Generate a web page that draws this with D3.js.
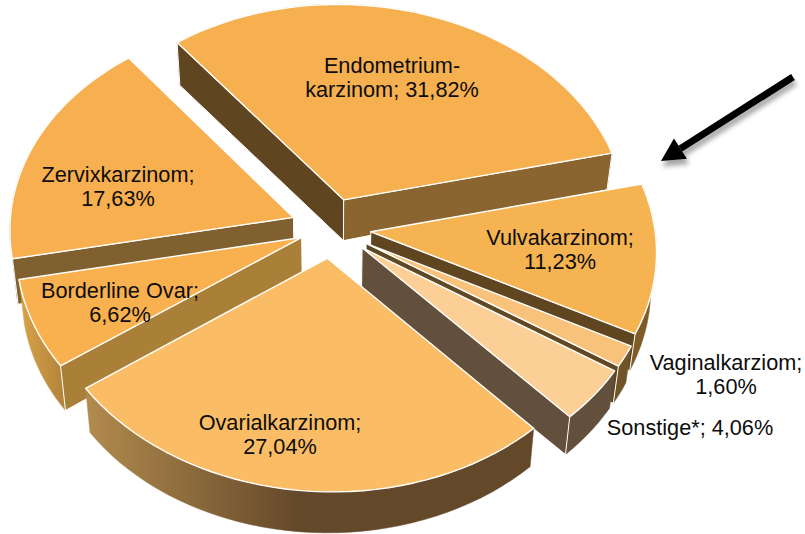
<!DOCTYPE html>
<html><head><meta charset="utf-8">
<style>html,body{margin:0;padding:0;background:#fff}svg{display:block}text{font-family:"Liberation Sans",Arial,sans-serif;fill:#0d0d0d}</style>
<script src="https://cdn.jsdelivr.net/npm/d3@7"></script>
</head><body>
<script>
const categories=["Endometriumkarzinom","Vulvakarzinom","Vaginalkarziom","Sonstige*","Ovarialkarzinom","Borderline Ovar","Zervixkarzinom"];
const values=[31.82,11.23,1.60,4.06,27.04,6.62,17.63];
const labelLines=[["Endometrium-","karzinom; 31,82%"],["Vulvakarzinom;","11,23%"],["Vaginalkarziom;","1,60%"],["Sonstige*; 4,06%"],["Ovarialkarzinom;","27,04%"],["Borderline Ovar;","6,62%"],["Zervixkarzinom;","17,63%"]];
const labelAnchors=[[392,73],[560,245],[726,370],[690,435],[280,430],[120,298],[118,182]];
const topColors=["#f6b050","#f6b351","#f9c27b","#fccf96","#fabd65","#f9b04e","#f8af4f"];
const radialColors=["#8a6530","#5f4520","#5f4822","#62503c","#64482a","#aa7f38","#80602e"];
const startWallColors=["#5f4520","#5f4520","#5f4822","#62503c","#64482a","#aa7f38","#80602e"];
const outerColors=["#8a6530","#7d5c28","#6f5428","#62503c","url(#ovarialWall)","url(#borderWall)","#80602e"];
const explodeBy=[40,40,40,40,40,32,40];
const paintOrder=[0,6,1,5,2,3,4];

const W=805,H=534,cx=331,cy=228,R=284,squash=0.755,persp=0.07,taper=0.018,skew=0.018;
const rad=Math.PI/180;
const svg=d3.select("body").append("svg").attr("width",W).attr("height",H);
const defs=svg.append("defs");
function grad(id,x1,x2,c1,c2){
  const g=defs.append("linearGradient").attr("id",id).attr("gradientUnits","userSpaceOnUse")
    .attr("x1",x1).attr("x2",x2).attr("y1",0).attr("y2",0);
  g.append("stop").attr("offset",0).attr("stop-color",c1);
  g.append("stop").attr("offset",1).attr("stop-color",c2);
}
grad("ovarialWall",82,300,"#b38c4e","#64482a");
grad("borderWall",25,75,"#d39f48","#a97c36");
const blur=defs.append("filter").attr("id","soft").attr("x","-20%").attr("y","-20%").attr("width","140%").attr("height","140%");
blur.append("feGaussianBlur").attr("stdDeviation",2.5);

const arcs=d3.pie().sort(null).value(d=>d).startAngle(-37.6*rad).endAngle(322.4*rad)(values);
const line=d3.line();
function proj(u,v,z){
  const w=(1+persp*v/R)*(1-taper*z);
  const depth=41+4*v/R-4*u/R;
  return [cx+(u+skew*v)*w, cy+v*squash*w+depth*z];
}
arcs.forEach((a,i)=>{
  const mid=(a.startAngle+a.endAngle)/2;
  const ox=explodeBy[i]*Math.sin(mid),oy=-explodeBy[i]*Math.cos(mid);
  const pt=(th,r,z)=>proj(ox+r*Math.sin(th),oy-r*Math.cos(th),z);
  const angles=d3.range(0,41).map(k=>a.startAngle+(a.endAngle-a.startAngle)*k/40);
  a.top=[pt(0,0,0),...angles.map(t=>pt(t,R,0))];
  a.outer=[...angles.map(t=>pt(t,R,0)),...angles.slice().reverse().map(t=>pt(t,R,1))];
  a.startWall=Math.sin(a.startAngle)<0?[pt(0,0,0),pt(a.startAngle,R,0),pt(a.startAngle,R,1),pt(0,0,1)]:null;
  a.endWall=Math.sin(a.endAngle)>0?[pt(0,0,0),pt(a.endAngle,R,0),pt(a.endAngle,R,1),pt(0,0,1)]:null;
  a.idx=i;
});
const slices=svg.append("g").selectAll("g").data(paintOrder.map(i=>arcs[i])).join("g");
slices.each(function(a){
  const s=d3.select(this),i=a.idx;
  s.append("path").attr("d",line(a.outer)+"Z").attr("fill",outerColors[i]).attr("stroke",outerColors[i]).attr("stroke-width",.5);
  if(a.startWall) s.append("path").attr("d",line(a.startWall)+"Z").attr("fill",startWallColors[i]).attr("stroke","#fff").attr("stroke-width",1);
  if(a.endWall) s.append("path").attr("d",line(a.endWall)+"Z").attr("fill",radialColors[i]).attr("stroke","#fff").attr("stroke-width",1);
  s.append("path").attr("d",line(a.top)+"Z").attr("fill",topColors[i]).attr("stroke","#fff").attr("stroke-width",1.4).attr("stroke-linejoin","round");
});
const arrowPts=[[793,77],[661,161]];
const ag=svg.append("g");
function arrow(sel){
  const [a,b]=arrowPts, ang=Math.atan2(b[1]-a[1],b[0]-a[0]);
  const hl=23,hw=12,base=[b[0]-hl*Math.cos(ang),b[1]-hl*Math.sin(ang)],nx=-Math.sin(ang),ny=Math.cos(ang);
  sel.append("line").attr("x1",a[0]).attr("y1",a[1]).attr("x2",base[0]).attr("y2",base[1]).attr("stroke-width",7);
  sel.append("path").attr("d",line([b,[base[0]+nx*hw,base[1]+ny*hw],[base[0]-nx*hw,base[1]-ny*hw]])+"Z");
}
const shadow=ag.append("g").attr("transform","translate(2,5)").attr("filter","url(#soft)").attr("stroke","#000").attr("fill","#000").attr("opacity",.35);
arrow(shadow);
const solid=ag.append("g").attr("stroke","#000").attr("fill","#000").attr("stroke-width",0);
arrow(solid);
svg.append("g").selectAll("text").data(labelLines).join("text")
  .attr("text-anchor","middle").attr("font-size",21.7)
  .attr("transform",(d,i)=>`translate(${labelAnchors[i][0]},${labelAnchors[i][1]})`)
  .selectAll("tspan").data(d=>d).join("tspan").attr("x",0).attr("dy",(d,j)=>j?24:0).text(d=>d);
</script>
</body></html>
